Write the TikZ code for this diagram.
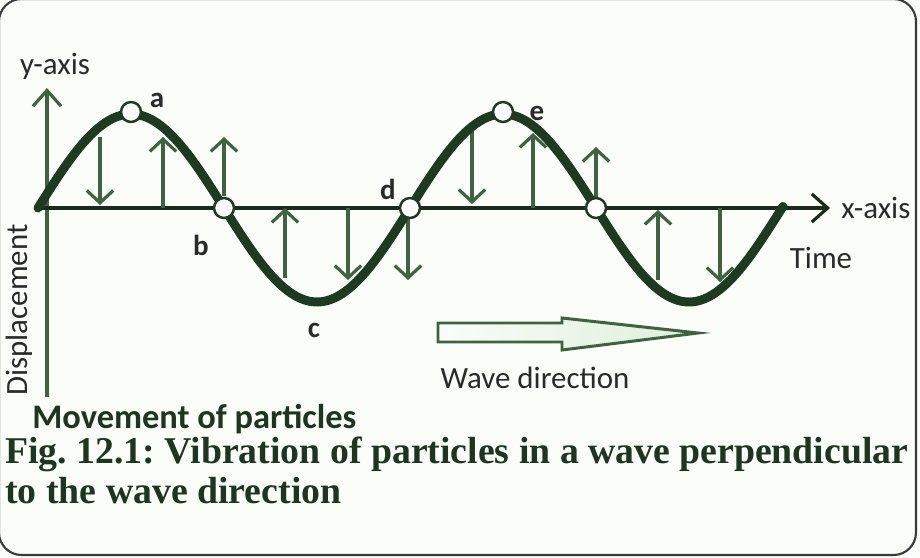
\documentclass[tikz,border=0pt]{standalone}
\usepackage{fontspec}
\setmainfont{Carlito}
\newfontfamily\capfont{Liberation Serif}
\usetikzlibrary{arrows.meta}
\definecolor{wavec}{HTML}{1F3A22}
\definecolor{arrc}{HTML}{3F6242}
\definecolor{axisc}{HTML}{1C2A1D}
\definecolor{txtg}{HTML}{1E3521}
\definecolor{txtk}{HTML}{2A2A2A}
\definecolor{bg}{HTML}{FAFDF8}
\definecolor{fillg}{HTML}{DDEFD9}
\definecolor{framec}{HTML}{3A3A3A}
\frenchspacing
\begin{document}
\begin{tikzpicture}[x=0.02cm,y=-0.02cm,
  vib/.style={draw=arrc, line width=1.8pt, -{Straight Barb[length=7pt,width=15pt]}},
  axisline/.style={draw=axisc, line width=1.8pt},
  dot/.style={circle, draw=wavec, fill=white, line width=1.4pt, minimum size=0.4cm, inner sep=0pt},
  lab/.style={font=\fontsize{17.6}{20}\selectfont, text=txtk, inner sep=0pt},
  ptlab/.style={font=\bfseries\fontsize{16.5}{18}\selectfont, text=txtk, inner sep=0pt},
  capt/.style={font=\capfont\bfseries\fontsize{21.5}{24}\selectfont, text=txtg, inner sep=0pt, anchor=base west}]
\fill[bg] (0,0) rectangle (920,558);
\useasboundingbox (0,0) rectangle (920,558);
\draw[framec, line width=1.2pt, rounded corners=0.45cm] (-1,-1) rectangle (916,555);
% axes
\coordinate (ybot) at (47,397);
\coordinate (ytop) at (47,88);
\coordinate (xl) at (38,208);
\coordinate (xr) at (830,208);
\draw[axisline, -{Straight Barb[length=9pt,width=16pt]}, draw=arrc] (ybot) -- (ytop);
\draw[axisline, -{Straight Barb[length=9pt,width=16pt]}] (xl) -- (xr);
% particle movement arrows
\foreach \n/\x/\ya/\yb in {1/100/137/205, 2/163/208/137, 3/224/196/137, 4/285/278/208,
  5/348/208/280, 6/408/218/280, 7/472/130/204, 8/533/208/133, 9/596/198/147,
  10/658/280/210, 11/720/208/282}{
  \coordinate (s\n) at (\x,\ya);
  \coordinate (t\n) at (\x,\yb);
  \draw[vib] (s\n) -- (t\n);
}
% wave
\draw[wavec, line width=5.1pt, line cap=round] plot[domain=38:783, samples=200] (\x,{208-94*sin((\x-38)/186*180)});
% particles
\node[dot] (pa) at (131,112) {};
\node[dot] (pb) at (224,208) {};
\node[dot] (pd) at (410,208) {};
\node[dot] (pe) at (503,112) {};
\node[dot] (pf) at (596,208) {};
% point labels
\node[ptlab] (la) at (157,100) {a};
\node[ptlab] (lb) at (201,245) {b};
\node[ptlab] (lc) at (314,330) {c};
\node[ptlab] (ld) at (388,189) {d};
\node[ptlab] (le) at (537,113) {e};
% axis labels
\node[lab] (yl) at (55,66) {y-axis};
\node[lab, anchor=west] (xlab) at (841,208) {x-axis};
\node[lab] (tl) at (821,258) {Time};
\node[lab, rotate=90] (dl) at (19,310) {Displacement};
% wave direction arrow
\draw[arrc, line width=1.7pt, left color=white!85!fillg, right color=fillg] (438,323) -- (562,323) -- (562,318) -- (698,333) -- (562,350) -- (562,342) -- (438,342) -- cycle;
\node[lab] (wd) at (535,378) {Wave direction};
% bottom texts
\node[font=\bfseries\fontsize{19.6}{22}\selectfont, text=txtg, inner sep=0pt, anchor=base west] (mv) at (32,428) {Movement of particles};
\node[capt] (c1) at (5,463) {Fig. 12.1: Vibration of particles in a wave perpendicular};
\node[capt] (c2) at (5,503) {to the wave direction};
\end{tikzpicture}
\end{document}
